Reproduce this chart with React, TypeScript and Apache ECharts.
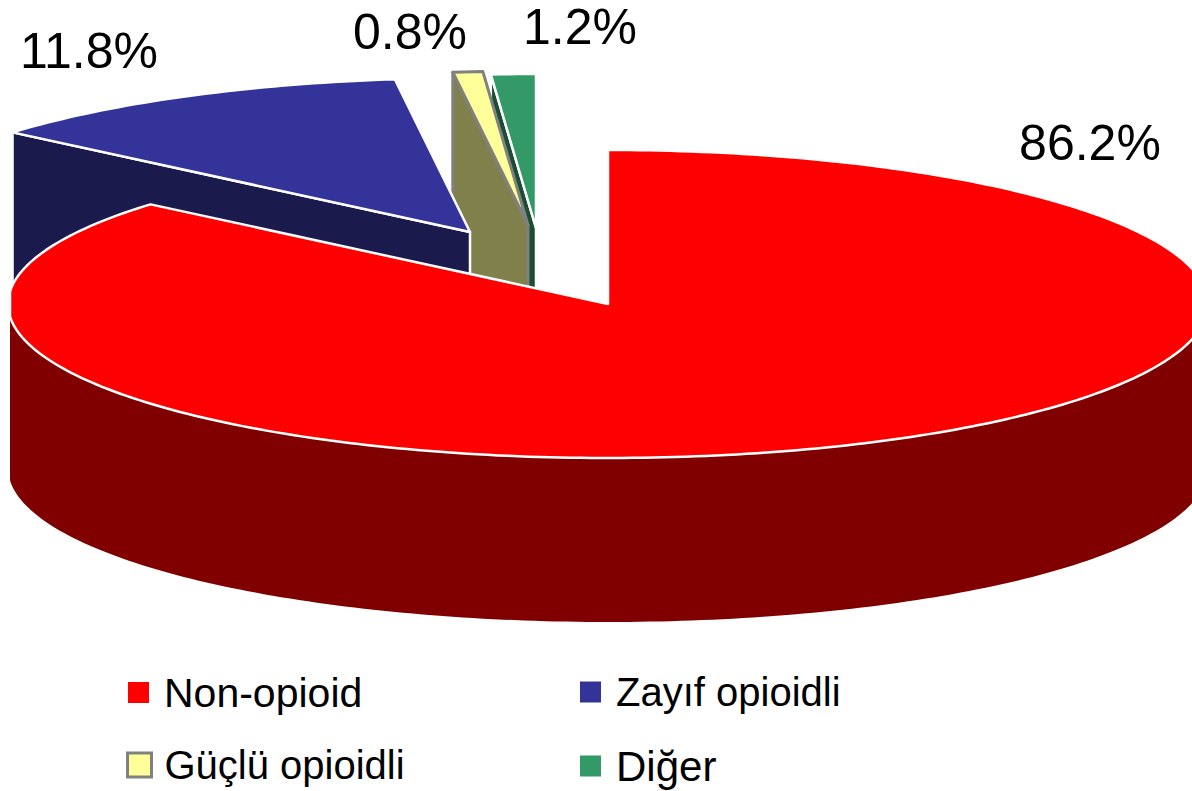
import React, { useEffect, useRef } from "react";
import * as echarts from "echarts";

const categories = ["Non-opioid", "Zayıf opioidli", "Güçlü opioidli", "Diğer"];
const shares = [86.2, 11.8, 0.8, 1.2];
const percentLabels = ["86.2%", "11.8%", "0.8%", "1.2%"];

const topColors = ["#FF0000", "#333399", "#FFFF99", "#339966"];
const sideColors = ["#800000", "#1A1A4D", "#80804D", "#1A4D33"];
const edgeColors = ["#FFFFFF", "#FFFFFF", "#808080", "#FFFFFF"];
const edgeWidths = [2.5, 2.5, 3, 2.5];
// slice apex in page pixels (the exploded pie)
const apexes = [[608, 304], [470, 232], [528, 225], [536, 228]];
const labelPos = [[1090, 143], [89, 51], [410, 32], [580, 27]];
const legendPos = [[128, 672], [580, 672], [126, 745], [580, 745]];
const legendFontSizes = [41, 40, 40, 42];
const RX = 600;
const RY = 154;
const DEPTH = 164;
const MIN_X = 10;

const total = shares.reduce((a, b) => a + b, 0);
const rad = (d: number) => (d * Math.PI) / 180;

function rimPoints(i: number, a0: number, a1: number) {
  const [cx, cy] = apexes[i];
  const pts: number[][] = [];
  const n = Math.max(2, Math.ceil((a1 - a0) / 1));
  for (let k = 0; k <= n; k++) {
    const a = rad(a0 + ((a1 - a0) * k) / n);
    pts.push([Math.max(MIN_X, cx + RX * Math.sin(a)), cy - RY * Math.cos(a)]);
  }
  return pts;
}

function makeRender(i: number) {
  return (_params: any, api: any) => {
    const value = api.value(0) as number;
    const before = shares.slice(0, i).reduce((a, b) => a + b, 0);
    const a0 = (before / total) * 360;
    const a1 = ((before + value) / total) * 360;
    const [cx, cy] = apexes[i];
    const rim = rimPoints(i, a0, a1);
    const children: any[] = [];
    const sideStyle = {
      fill: sideColors[i],
      stroke: i === 0 ? sideColors[i] : edgeColors[i],
      lineWidth: i === 0 ? 0 : edgeWidths[i],
      lineJoin: "round",
    };
    if (i === 0) {
      const front = rimPoints(i, 90, 270);
      const wall = [
        ...front.map((p) => [p[0], p[1]]),
        ...front.slice().reverse().map((p) => [p[0], p[1] + DEPTH]),
      ];
      children.push({ type: "polygon", shape: { points: wall }, style: sideStyle });
    } else {
      const p = rim[0];
      children.push({
        type: "polygon",
        shape: { points: [p, [cx, cy], [cx, cy + DEPTH], [p[0], p[1] + DEPTH]] },
        style: sideStyle,
      });
    }
    children.push({
      type: "polygon",
      shape: { points: [[cx, cy], ...rim] },
      style: {
        fill: topColors[i],
        stroke: edgeColors[i],
        lineWidth: edgeWidths[i],
        lineJoin: "round",
      },
    });
    children.push({
      type: "text",
      style: {
        text: percentLabels[i],
        x: labelPos[i][0],
        y: labelPos[i][1],
        fill: "#000000",
        font: "50px 'Liberation Sans', Arial, sans-serif",
        textAlign: "center",
        textVerticalAlign: "middle",
      },
    });
    return { type: "group", children };
  };
}

// back-to-front: the small far slices first, the large near slice last
const drawOrder = [3, 2, 1, 0];

export default function App() {
  const ref = useRef<HTMLDivElement>(null);
  useEffect(() => {
    const chart = echarts.init(ref.current!, undefined, { renderer: "svg" });
    chart.setOption({
      animation: false,
      backgroundColor: "#FFFFFF",
      tooltip: { show: false },
      legend: categories.map((name, i) => ({
        data: [
          {
            name,
            icon: "rect",
            itemStyle: {
              color: topColors[i],
              borderColor: i === 2 ? "#808080" : topColors[i],
              borderWidth: i === 2 ? 3 : 0,
            },
          },
        ],
        left: legendPos[i][0],
        top: legendPos[i][1],
        padding: 0,
        itemWidth: i === 2 ? 24 : 21,
        itemHeight: i === 2 ? 24 : 21,
        selectedMode: false,
        textStyle: {
          fontFamily: "'Liberation Sans', Arial, sans-serif",
          fontSize: legendFontSizes[i],
          color: "#000000",
          padding: [0, 0, 0, i === 2 ? 8 : 10],
        },
      })),
      series: drawOrder.map((i) => ({
        type: "custom",
        name: categories[i],
        coordinateSystem: "none",
        silent: true,
        clip: false,
        itemStyle: { color: topColors[i] },
        data: [[shares[i]]],
        renderItem: makeRender(i),
      })),
    } as any);
    return () => chart.dispose();
  }, []);
  return (
    <div
      ref={ref}
      style={{ position: "absolute", left: 0, top: 0, width: 1192, height: 791, overflow: "hidden" }}
    />
  );
}
